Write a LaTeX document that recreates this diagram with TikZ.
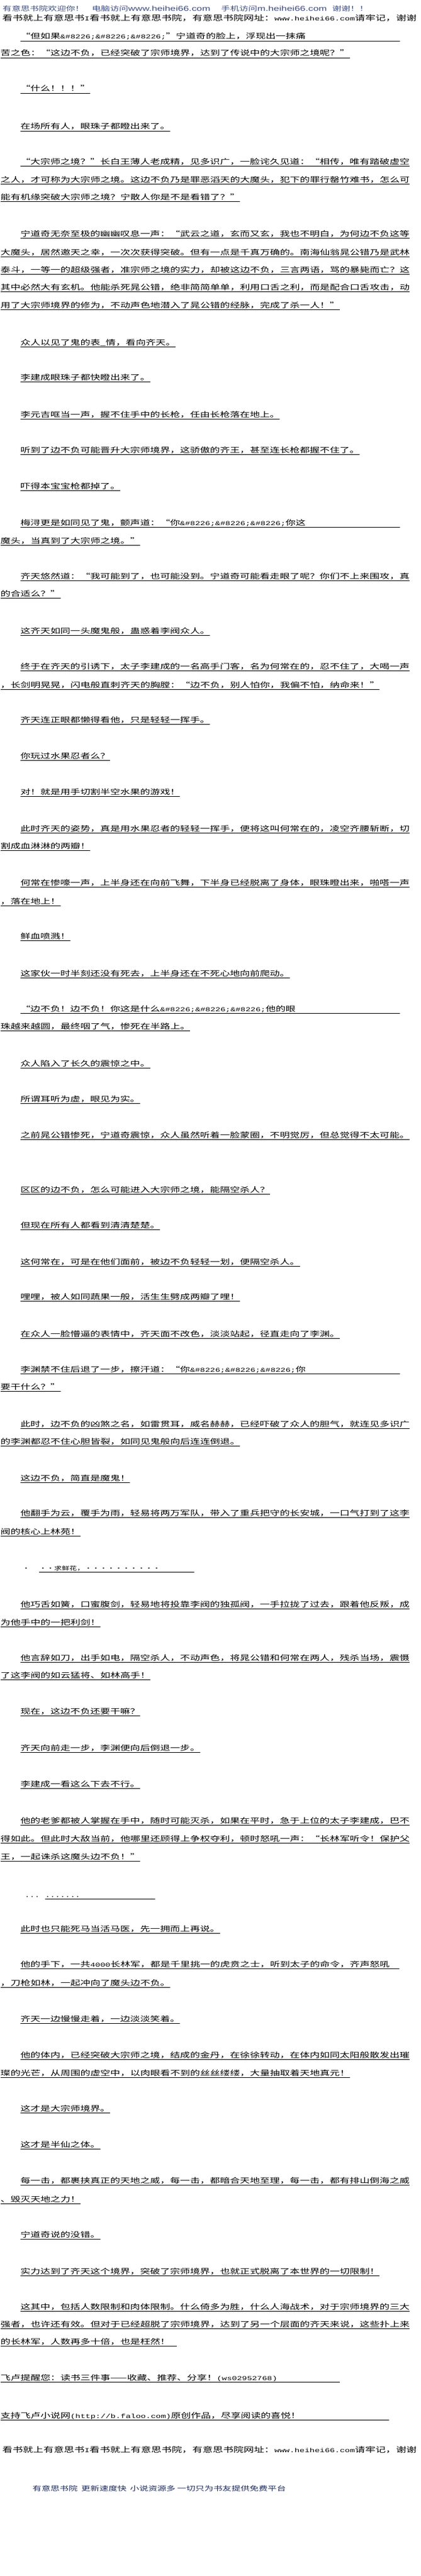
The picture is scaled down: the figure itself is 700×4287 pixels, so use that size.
\documentclass[tikz,border=0pt]{standalone}
\usepackage{fontspec}
\usepackage{xcolor}
\newfontfamily\cjk[FakeStretch=1.4]{Noto Sans CJK SC}
\newfontfamily\monof[FakeStretch=1.4]{Liberation Mono}
\newfontfamily\hlat[FakeStretch=1.4]{Liberation Sans}
\newcommand\bodyfont{\cjk\fontsize{11.85}{14}\selectfont}
\newcommand\sitefont{\cjk\fontsize{12.2}{14}\selectfont}
\newcommand\hdrfont{\cjk\fontsize{10.75}{13}\selectfont}
\newcommand\latn[1]{{\monof\fontsize{9.95}{12}\selectfont #1}}
\newcommand\hurl[1]{{\hlat\fontsize{11.7}{13}\selectfont #1}}
\newcommand\bul{\&\#8226;}
\definecolor{hdrblue}{RGB}{60,76,126}
\definecolor{ftrblue}{RGB}{28,40,88}

\begin{document}
\begin{tikzpicture}[x=1pt, y=-1pt,
    bare/.style={anchor=base west, inner sep=0pt, outer sep=0pt, font=\bodyfont},
    under/.style={draw, line width=0.8pt},
    uline/.style={bare, append after command={\pgfextra{\let\ulnode\tikzlastnode}
        ([yshift=-3pt]\ulnode.base west) edge[under] ([yshift=-3pt]\ulnode.base east)}},
    wide/.style={text width=#1, align=left}]
        \fill[white] (0,0) rectangle (700,4287);
        \useasboundingbox (0,0) rectangle (700,4287);

        % Site header
        \node[bare, font=\hdrfont, text=hdrblue] (hdr) at (4.5,19) {有意思书院欢迎你！\hspace{13pt}电脑访问\hurl{www.heihei66.com}\hspace{18pt}手机访问\hurl{m.heihei66.com}\hspace{9pt}谢谢！！};
        \node[bare, font=\sitefont] (site) at (4,35) {看书就上有意思书\latn{I}看书就上有意思书院，有意思书院网址：\latn{www.heihei66.com}请牢记，谢谢};

        % Chapter text
        \node[uline, wide=631] (l01) at (34,65) {“但如果\latn{\bul\bul\bul}”宁道奇的脸上，浮现出一抹痛};
        \node[uline] (l02) at (1,93) {苦之色：“这边不负，已经突破了宗师境界，达到了传说中的大宗师之境呢？”};
        \node[uline] (l03) at (34,152) {“什么！！！”};
        \node[uline] (l04) at (34,215) {在场所有人，眼珠子都瞪出来了。};
        \node[uline] (l05) at (34,273) {“大宗师之境？”长白王薄人老成精，见多识广，一脸诧久见道：“相传，唯有踏破虚空};
        \node[uline] (l06) at (1,303) {之人，才可称为大宗师之境。这边不负乃是罪恶滔天的大魔头，犯下的罪行罄竹难书，怎么可};
        \node[uline] (l07) at (1,332) {能有机缘突破大宗师之境？宁散人你是不是看错了？”};
        \node[uline] (l08) at (34,393) {宁道奇无奈至极的幽幽叹息一声：“武云之道，玄而又玄，我也不明白，为何边不负这等};
        \node[uline] (l09) at (1,424) {大魔头，居然邀天之幸，一次次获得突破。但有一点是千真万确的。南海仙翁晁公错乃是武林};
        \node[uline] (l10) at (1,453) {泰斗，一等一的超级强者，准宗师之境的实力，却被这边不负，三言两语，骂的暴毙而亡？这};
        \node[uline] (l11) at (1,482) {其中必然大有玄机。他能杀死晁公错，绝非简简单单，利用口舌之利，而是配合口舌攻击，动};
        \node[uline] (l12) at (1,512) {用了大宗师境界的修为，不动声色地潜入了晁公错的经脉，完成了杀一人！”};
        \node[uline] (l13) at (34,574) {众人以见了鬼的表\_情，看向齐天。};
        \node[uline] (l14) at (34,632) {李建成眼珠子都快瞪出来了。};
        \node[uline] (l15) at (34,694) {李元吉哐当一声，握不住手中的长枪，任由长枪落在地上。};
        \node[uline] (l16) at (34,753) {听到了边不负可能晋升大宗师境界，这骄傲的齐王，甚至连长枪都握不住了。};
        \node[uline] (l17) at (34,813) {吓得本宝宝枪都掉了。};
        \node[uline, wide=631] (l18) at (34,874) {梅浔更是如同见了鬼，颤声道：“你\latn{\bul\bul\bul}你这};
        \node[uline] (l19) at (1,904) {魔头，当真到了大宗师之境。”};
        \node[uline] (l20) at (34,963) {齐天悠然道：“我可能到了，也可能没到。宁道奇可能看走眼了呢？你们不上来围攻，真};
        \node[uline] (l21) at (1,992) {的合适么？”};
        \node[uline] (l22) at (34,1054) {这齐天如同一头魔鬼般，蛊惑着李阀众人。};
        \node[uline] (l23) at (34,1113) {终于在齐天的引诱下，太子李建成的一名高手门客，名为何常在的，忍不住了，大喝一声};
        \node[uline] (l24) at (1,1144) {，长剑明晃晃，闪电般直刺齐天的胸膛：“边不负，别人怕你，我偏不怕，纳命来！”};
        \node[uline] (l25) at (34,1202) {齐天连正眼都懒得看他，只是轻轻一挥手。};
        \node[uline] (l26) at (34,1262) {你玩过水果忍者么？};
        \node[uline] (l27) at (34,1322) {对！就是用手切割半空水果的游戏！};
        \node[uline] (l28) at (34,1383) {此时齐天的姿势，真是用水果忍者的轻轻一挥手，便将这叫何常在的，凌空齐腰斩断，切};
        \node[uline] (l29) at (1,1412) {割成血淋淋的两瓣！};
        \node[uline] (l30) at (34,1473) {何常在惨嚎一声，上半身还在向前飞舞，下半身已经脱离了身体，眼珠瞪出来，啪嗒一声};
        \node[uline] (l31) at (1,1504) {，落在地上！};
        \node[uline] (l32) at (34,1562) {鲜血喷溅！};
        \node[uline] (l33) at (34,1624) {这家伙一时半刻还没有死去，上半身还在不死心地向前爬动。};
        \node[uline, wide=631] (l34) at (34,1683) {“边不负！边不负！你这是什么\latn{\bul\bul\bul}他的眼};
        \node[uline] (l35) at (1,1712) {珠越来越圆，最终咽了气，惨死在半路上。};
        \node[uline] (l36) at (34,1774) {众人陷入了长久的震惊之中。};
        \node[uline] (l37) at (34,1833) {所谓耳听为虚，眼见为实。};
        \node[uline] (l38) at (34,1893) {之前晁公错惨死，宁道奇震惊，众人虽然听着一脸蒙圈，不明觉厉，但总觉得不太可能。};
        \node[uline] (l39) at (34,1984) {区区的边不负，怎么可能进入大宗师之境，能隔空杀人？};
        \node[uline] (l40) at (34,2043) {但现在所有人都看到清清楚楚。};
        \node[uline] (l41) at (34,2104) {这何常在，可是在他们面前，被边不负轻轻一划，便隔空杀人。};
        \node[uline] (l42) at (34,2162) {哩哩，被人如同蔬果一般，活生生劈成两瓣了哩！};
        \node[uline] (l43) at (34,2224) {在众人一脸懵逼的表情中，齐天面不改色，淡淡站起，径直走向了李渊。};
        \node[uline, wide=631] (l44) at (34,2283) {李渊禁不住后退了一步，擦汗道：“你\latn{\bul\bul\bul}你};
        \node[uline] (l45) at (1,2312) {要干什么？”};
        \node[uline] (l46) at (34,2374) {此时，边不负的凶煞之名，如雷贯耳，威名赫赫，已经吓破了众人的胆气，就连见多识广};
        \node[uline] (l47) at (1,2403) {的李渊都忍不住心胆皆裂，如同见鬼般向后连连倒退。};
        \node[uline] (l48) at (34,2464) {这边不负，简直是魔鬼！};
        \node[uline] (l49) at (34,2522) {他翻手为云，覆手为雨，轻易将两万军队，带入了重兵把守的长安城，一口气打到了这李};
        \node[uline] (l50) at (1,2553) {阀的核心上林苑！};
        \node[bare, font=\cjk\fontsize{9}{11}\selectfont] (dot1) at (37,2613) {・};
        \node[uline, wide=258, font=\cjk\fontsize{9}{11}\selectfont] (l51) at (65,2613) {・・求鲜花，・・・・・・・・・・};
        \node[uline] (l52) at (34,2674) {他巧舌如簧，口蜜腹剑，轻易地将投靠李阀的独孤阀，一手拉拢了过去，跟着他反叛，成};
        \node[uline] (l53) at (1,2704) {为他手中的一把利剑！};
        \node[uline] (l54) at (34,2763) {他言辞如刀，出手如电，隔空杀人，不动声色，将晁公错和何常在两人，残杀当场，震慑};
        \node[uline] (l55) at (1,2792) {了这李阀的如云猛将、如林高手！};
        \node[uline] (l56) at (34,2852) {现在，这边不负还要干嘛？};
        \node[uline] (l57) at (34,2913) {齐天向前走一步，李渊便向后倒退一步。};
        \node[uline] (l58) at (34,2973) {李建成一看这么下去不行。};
        \node[uline] (l59) at (34,3034) {他的老爹都被人掌握在手中，随时可能灭杀，如果在平时，急于上位的太子李建成，巴不};
        \node[uline] (l60) at (1,3064) {得如此。但此时大敌当前，他哪里还顾得上争权夺利，顿时怒吼一声：“长林军听令！保护父};
        \node[uline] (l61) at (1,3094) {王，一起诛杀这魔头边不负！”};
        \node[bare] (dot2) at (41,3157) {\latn{...}};
        \node[uline, wide=183] (l62) at (75,3157) {\latn{.......}};
        \node[uline] (l63) at (34,3214) {此时也只能死马当活马医，先一拥而上再说。};
        \node[uline, wide=630] (l64) at (34,3273) {他的手下，一共\latn{4000}长林军，都是千里挑一的虎贲之士，听到太子的命令，齐声怒吼};
        \node[uline] (l65) at (1,3304) {，刀枪如林，一起冲向了魔头边不负。};
        \node[uline] (l66) at (34,3364) {齐天一边慢慢走着，一边淡淡笑着。};
        \node[uline] (l67) at (34,3424) {他的体内，已经突破大宗师之境，结成的金丹，在徐徐转动，在体内如同太阳般散发出璀};
        \node[uline] (l68) at (1,3454) {璨的光芒，从周围的虚空中，以肉眼看不到的丝丝缕缕，大量抽取着天地真元！};
        \node[uline] (l69) at (34,3513) {这才是大宗师境界。};
        \node[uline] (l70) at (34,3573) {这才是半仙之体。};
        \node[uline] (l71) at (34,3633) {每一击，都裹挟真正的天地之威，每一击，都暗合天地至理，每一击，都有排山倒海之威};
        \node[uline] (l72) at (1,3664) {、毁灭天地之力！};
        \node[uline] (l73) at (34,3723) {宁道奇说的没错。};
        \node[uline] (l74) at (34,3784) {实力达到了齐天这个境界，突破了宗师境界，也就正式脱离了本世界的一切限制！};
        \node[uline] (l75) at (34,3843) {这其中，包括人数限制和肉体限制。什么倚多为胜，什么人海战术，对于宗师境界的三大};
        \node[uline] (l76) at (1,3872) {强者，也许还有效。但对于已经超脱了宗师境界，达到了另一个层面的齐天来说，这些扑上来};
        \node[uline, wide=293] (l77) at (1,3901) {的长林军，人数再多十倍，也是枉然！};

        % Closing notes
        \node[uline, wide=564] (l78) at (1,3961) {飞卢提醒您：读书三件事——收藏、推荐、分享！\latn{(ws02952768)}};
        \node[uline, wide=646] (l79) at (1,4024) {支持飞卢小说网\latn{(http://b.faloo.com)}原创作品，尽享阅读的喜悦！};
        \node[bare, font=\sitefont] (site2) at (4,4081) {看书就上有意思书\latn{I}看书就上有意思书院，有意思书院网址：\latn{www.heihei66.com}请牢记，谢谢};
        \node[bare, font=\hdrfont, text=ftrblue] (ftr) at (54,4145) {有意思书院\hspace{6pt}更新速度快\hspace{6pt}小说资源多\hspace{3pt}一切只为书友提供免费平台};
    \end{tikzpicture}
\end{document}
